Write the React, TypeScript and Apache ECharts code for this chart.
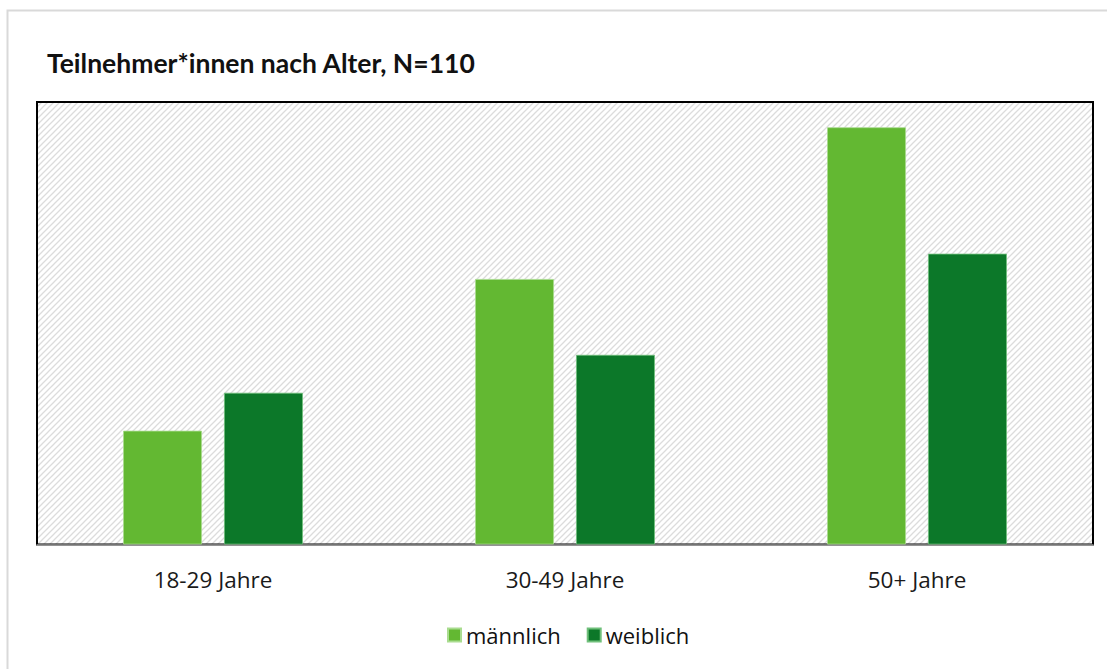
import React, { useEffect, useRef } from "react";
import * as echarts from "echarts";

const titleText = "Teilnehmer*innen nach Alter, N=110";
const categories = ["18-29 Jahre", "30-49 Jahre", "50+ Jahre"];
const seriesNames = ["männlich", "weiblich"];
const maennlich = [9, 21, 33];
const weiblich = [12, 15, 23];
const yMax = 35;

function makeHatch(): HTMLCanvasElement {
  const s = 6;
  const c = document.createElement("canvas");
  c.width = s;
  c.height = s;
  const ctx = c.getContext("2d")!;
  ctx.fillStyle = "#ffffff";
  ctx.fillRect(0, 0, s, s);
  ctx.strokeStyle = "#dcdcdc";
  ctx.lineWidth = 1.3;
  ctx.beginPath();
  ctx.moveTo(-1, s + 1);
  ctx.lineTo(s + 1, -1);
  ctx.moveTo(-1, 1);
  ctx.lineTo(1, -1);
  ctx.moveTo(s - 1, s + 1);
  ctx.lineTo(s + 1, s - 1);
  ctx.stroke();
  return c;
}

export default function App() {
  const ref = useRef<HTMLDivElement>(null);
  useEffect(() => {
    if (!ref.current) return;
    const chart = echarts.init(ref.current, null, { renderer: "svg" });
    const font = "Open Sans";
    chart.setOption({
      animation: false,
      backgroundColor: "#ffffff",
      title: {
        text: titleText,
        left: 47,
        top: 49,
        padding: 0,
        textStyle: { fontFamily: "Lato", fontWeight: "bold", fontSize: 26.5, color: "#111" },
      },
      grid: {
        left: 37,
        top: 102,
        right: 14,
        bottom: 124.5,
        show: true,
        borderColor: "#000",
        borderWidth: 2,
        backgroundColor: { image: makeHatch(), repeat: "repeat" } as any,
      },
      legend: {
        data: seriesNames,
        left: 447,
        top: 624,
        icon: "rect",
        itemWidth: 13,
        itemHeight: 13,
        itemGap: 26,
        padding: 0,
        textStyle: { fontFamily: font, fontSize: 22, color: "#111" },
      },
      xAxis: {
        type: "category",
        data: categories,
        offset: 2,
        axisLine: { show: true, lineStyle: { color: "#9a9a9a", width: 1.5 } },
        axisTick: { show: false },
        axisLabel: { fontFamily: font, fontSize: 22.5, color: "#1a1a1a", margin: 21 },
      },
      yAxis: {
        type: "value",
        min: 0,
        max: yMax,
        show: false,
        splitLine: { show: false },
      },
      graphic: [
        {
          type: "rect",
          shape: { x: 7.5, y: 10.5, width: 1200, height: 700 },
          style: { fill: "none", stroke: "#d9d9d9", lineWidth: 2 },
          silent: true,
          z: -10,
        },
      ],
      series: [
        {
          name: seriesNames[0],
          type: "bar",
          data: maennlich,
          barWidth: "22.4%",
          barGap: "28%",
          itemStyle: { color: "#63b832", borderColor: "#a9dc8f", borderWidth: 0.8 },
        },
        {
          name: seriesNames[1],
          type: "bar",
          data: weiblich,
          barWidth: "22.4%",
          itemStyle: { color: "#0c7829", borderColor: "#6fbf7a", borderWidth: 0.8 },
        },
      ],
    });
    return () => chart.dispose();
  }, []);
  return (
    <div
      ref={ref}
      style={{ position: "fixed", left: 0, top: 0, width: 1107, height: 669 }}
    />
  );
}
